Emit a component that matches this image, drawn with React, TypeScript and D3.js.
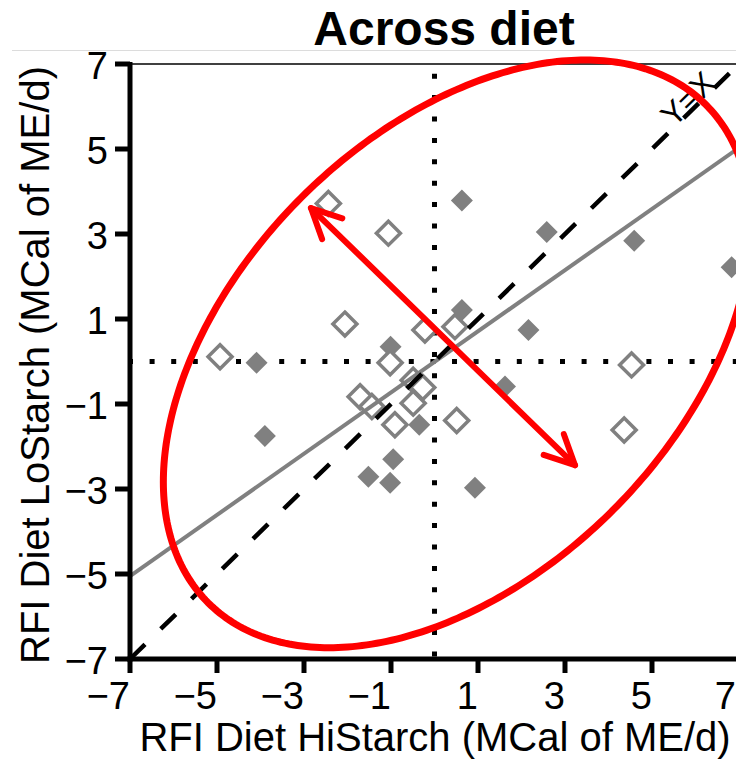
import React from 'react';
import * as d3 from 'd3';

// ---- data ----
const xTicks = [-7, -5, -3, -1, 1, 3, 5, 7];
const yTicks = [-7, -5, -3, -1, 1, 3, 5, 7];

// filled diamonds
const filledX = [0.63, 2.58, 4.59, 6.83, 2.16, 1.62, 0.63, -4.09, -1.01, -3.9, -0.35, -0.95, -1.52, -1.02, 0.93];
const filledY = [3.79, 3.05, 2.84, 2.22, 0.74, -0.59, 1.21, -0.03, 0.35, -1.75, -1.49, -2.3, -2.71, -2.85, -2.97];

// open diamonds
const openX = [-2.44, -1.06, -2.06, -4.93, -0.22, 0.47, -1.02, 4.53, 4.36, 0.51, -1.71, -1.44, -0.49, -0.27, -0.49, -0.91];
const openY = [3.72, 3.02, 0.88, 0.11, 0.74, 0.82, -0.03, -0.08, -1.61, -1.39, -0.83, -1.06, -0.44, -0.61, -0.98, -1.49];

// regression line
const fitSlope = 0.72;
const fitIntercept = -0.01;

// annotation ellipse (data units)
const ellipseCenter = [0.52, 0.18];
const ellipseMajor = [5.72, 5.86];
const ellipseMinor = [-3.59, 3.67];
// double arrow (data units)
const arrowStart = [-2.84, 3.61];
const arrowEnd = [3.23, -2.44];

const title = 'Across diet';
const xTitle = 'RFI Diet HiStarch (MCal of ME/d)';
const yTitle = 'RFI Diet LoStarch (MCal of ME/d)';
const identityLabel = 'Y=X';

const W = 736;
const H = 759;
const FONT = "'Liberation Sans', Arial, Helvetica, sans-serif";

export default function App() {
  const x = d3.scaleLinear().domain([-7, 7]).range([130, 739]);
  const y = d3.scaleLinear().domain([-7, 7]).range([659, 64]);
  const gray = '#808080';

  const diamond = (cx: number, cy: number, r: number) =>
    `M${cx},${cy - r}L${cx + r},${cy}L${cx},${cy + r}L${cx - r},${cy}Z`;

  const line = d3.line<[number, number]>().x((d) => x(d[0])).y((d) => y(d[1]));

  const ts = d3.range(0, 361).map((i) => (i / 360) * Math.PI * 2);
  const ellPts: [number, number][] = ts.map((t) => [
    ellipseCenter[0] + ellipseMajor[0] * Math.cos(t) + ellipseMinor[0] * Math.sin(t),
    ellipseCenter[1] + ellipseMajor[1] * Math.cos(t) + ellipseMinor[1] * Math.sin(t),
  ]);
  const ellPath = line(ellPts) + 'Z';

  const ax0 = x(arrowStart[0]), ay0 = y(arrowStart[1]);
  const ax1 = x(arrowEnd[0]), ay1 = y(arrowEnd[1]);
  const head = (tx: number, ty: number, fx: number, fy: number) => {
    const ang = Math.atan2(fy - ty, fx - tx);
    const L = 33;
    const a = (26 * Math.PI) / 180;
    const p1 = [tx + L * Math.cos(ang + a), ty + L * Math.sin(ang + a)];
    const p2 = [tx + L * Math.cos(ang - a), ty + L * Math.sin(ang - a)];
    return `M${p1[0]},${p1[1]}L${tx},${ty}L${p2[0]},${p2[1]}`;
  };

  const idAngle = (Math.atan2(y(7) - y(-7), x(7) - x(-7)) * 180) / Math.PI;
  const fmt = (t: number) => (t < 0 ? '\u2212' + Math.abs(t) : String(t));

  return (
    <svg width={W} height={H} style={{ position: 'absolute', left: 0, top: 0, background: '#fff' }} fontFamily={FONT}>
      <rect x={0} y={0} width={W} height={H} fill="#fff" />
      <line x1={12} x2={W} y1={50.5} y2={50.5} stroke="#dcdcdc" strokeWidth={1} />
      {/* title */}
      <text x={444} y={45} textAnchor="middle" fontSize={48} fontWeight="bold">{title}</text>

      {/* dotted zero lines */}
      <line x1={128} x2={W} y1={y(0)} y2={y(0)} stroke="#000" strokeWidth={5} strokeDasharray="5 16.6" />
      <line x1={x(0)} x2={x(0)} y1={656.5} y2={64} stroke="#000" strokeWidth={5} strokeDasharray="5 16.4" />

      {/* diamonds */}
      {filledX.map((v, i) => (
        <path key={'f' + i} d={diamond(x(v), y(filledY[i]), 11)} fill={gray} />
      ))}
      {openX.map((v, i) => (
        <path key={'o' + i} d={diamond(x(v), y(openY[i]), 12)} fill="#fff" stroke={gray} strokeWidth={3.5} />
      ))}

      {/* regression line */}
      <path d={line([[-7, fitSlope * -7 + fitIntercept], [7, fitSlope * 7 + fitIntercept]]) || ''} stroke={gray} strokeWidth={4} fill="none" />
      {/* identity line */}
      <path d={line([[-7, -7], [7, 7]]) || ''} stroke="#000" strokeWidth={4.5} strokeDasharray="21 22" fill="none" />
      <text transform={`translate(688,99) rotate(${idAngle})`} y={11} textAnchor="middle" fontSize={32}>{identityLabel}</text>

      {/* axes */}
      <line x1={130} x2={W} y1={64} y2={64} stroke="#000" strokeWidth={1.5} />
      <line x1={130} x2={130} y1={62} y2={661.5} stroke="#000" strokeWidth={5} />
      <line x1={127.5} x2={W} y1={659} y2={659} stroke="#000" strokeWidth={5} />
      {yTicks.map((t) => (
        <g key={'yt' + t}>
          <line x1={115} x2={130} y1={y(t)} y2={y(t)} stroke="#000" strokeWidth={5} />
          <text x={108} y={y(t) + 15} textAnchor="end" fontSize={38}>{fmt(t)}</text>
        </g>
      ))}
      {xTicks.map((t) => (
        <g key={'xt' + t}>
          <line x1={x(t)} x2={x(t)} y1={659} y2={673} stroke="#000" strokeWidth={5} />
          <text x={Math.min(x(t), 736)} y={709} textAnchor="end" fontSize={38}>{fmt(t)}</text>
        </g>
      ))}
      <text x={435} y={751} textAnchor="middle" fontSize={40}>{xTitle}</text>
      <text transform={`translate(49,365) rotate(-90)`} textAnchor="middle" fontSize={40}>{yTitle}</text>

      {/* annotations */}
      <path d={ellPath} fill="none" stroke="#ff0000" strokeWidth={7} />
      <line x1={ax0} y1={ay0} x2={ax1} y2={ay1} stroke="#ff0000" strokeWidth={6} strokeLinecap="round" />
      <path d={head(ax0, ay0, ax1, ay1)} fill="none" stroke="#ff0000" strokeWidth={6} strokeLinecap="round" strokeLinejoin="round" />
      <path d={head(ax1, ay1, ax0, ay0)} fill="none" stroke="#ff0000" strokeWidth={6} strokeLinecap="round" strokeLinejoin="round" />
    </svg>
  );
}
